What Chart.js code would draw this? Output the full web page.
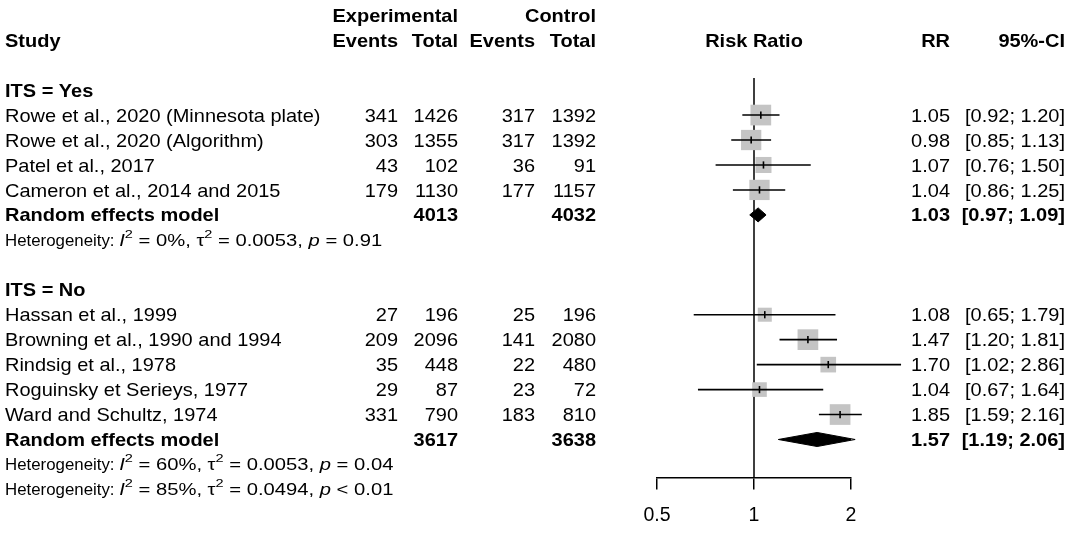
<!DOCTYPE html>
<html>
<head>
<meta charset="utf-8">
<script src="https://cdn.jsdelivr.net/npm/chart.js@4.4.1/dist/chart.umd.min.js"></script>
<style>
html,body{margin:0;padding:0;background:#fff;}
#wrap{width:1084px;height:545px;position:relative;}
</style>
</head>
<body>
<div id="wrap"><canvas id="c" width="1084" height="545"></canvas></div>
<script>
// ---------------- DATA ----------------
const groupLabels = ['ITS = Yes', 'ITS = No'];
const studies = [
  'Rowe et al., 2020 (Minnesota plate)',
  'Rowe et al., 2020 (Algorithm)',
  'Patel et al., 2017',
  'Cameron et al., 2014 and 2015',
  'Hassan et al., 1999',
  'Browning et al., 1990 and 1994',
  'Rindsig et al., 1978',
  'Roguinsky et Serieys, 1977',
  'Ward and Schultz, 1974'
];
const studyGroup = [0, 0, 0, 0, 1, 1, 1, 1, 1];
const expEvents  = [341, 303, 43, 179, 27, 209, 35, 29, 331];
const expTotal   = [1426, 1355, 102, 1130, 196, 2096, 448, 87, 790];
const ctrlEvents = [317, 317, 36, 177, 25, 141, 22, 23, 183];
const ctrlTotal  = [1392, 1392, 91, 1157, 196, 2080, 480, 72, 810];
const rr     = [1.05, 0.98, 1.07, 1.04, 1.08, 1.47, 1.70, 1.04, 1.85];
const ciLow  = [0.92, 0.85, 0.76, 0.86, 0.65, 1.20, 1.02, 0.67, 1.59];
const ciHigh = [1.20, 1.13, 1.50, 1.25, 1.79, 1.81, 2.86, 1.64, 2.16];
// relative study weights
const relWeight = [1.00, 0.96, 0.60, 0.96, 0.46, 1.00, 0.57, 0.50, 1.00];

const reLabel = 'Random effects model';
const reExpTotal  = [4013, 3617];
const reCtrlTotal = [4032, 3638];
const reRR   = [1.03, 1.57];
const reLow  = [0.97, 1.19];
const reHigh = [1.09, 2.06];

const hetI2   = ['0%', '60%', '85%'];
const hetTau2 = ['0.0053', '0.0053', '0.0494'];
const hetP    = ['= 0.91', '= 0.04', '< 0.01'];

const xTicks = [0.5, 1, 2];
const headTop = ['Experimental', 'Control'];
const headCols = ['Study', 'Events', 'Total', 'Events', 'Total', 'Risk Ratio', 'RR', '95%-CI'];

// ---------------- LAYOUT (rows) ----------------
const rows = { group: [], study: [], re: [], het: [] };
(function () {
  let r = -1;
  for (let g = 0; g < groupLabels.length; g++) {
    rows.group[g] = r++;
    studies.forEach((s, i) => { if (studyGroup[i] === g) rows.study[i] = r++; });
    rows.re[g] = r++;
    rows.het[g] = r++;
    if (g < groupLabels.length - 1) r++;
  }
  rows.het[groupLabels.length] = r; // overall heterogeneity
})();

const Y_MIN = -1.485, Y_MAX = 14.527;
const ROW_PX = 24.92;
const DIAMOND_HALF = 7 / ROW_PX;
const MAX_BOX = 20.7;

const fmt2 = v => v.toFixed(2);

// ---------------- DATASETS ----------------
const datasets = [];
// reference line at RR = 1
datasets.push({
  data: [{x: 1, y: Y_MIN}, {x: 1, y: Y_MAX}],
  showLine: true, borderColor: '#000', borderWidth: 1.5, pointRadius: 0, order: 5, clip: false
});
// boxes
datasets.push({
  data: rr.map((v, i) => ({x: v, y: rows.study[i]})),
  showLine: false,
  pointStyle: 'rect',
  pointRadius: relWeight.map(w => MAX_BOX * Math.sqrt(w) / (2 * Math.SQRT1_2)),
  pointBackgroundColor: '#c4c4c4', pointBorderWidth: 0, pointBorderColor: '#c4c4c4',
  order: 4, clip: false
});
// CI lines
rr.forEach((v, i) => {
  datasets.push({
    data: [{x: ciLow[i], y: rows.study[i]}, {x: ciHigh[i], y: rows.study[i]}],
    showLine: true, borderColor: '#000', borderWidth: 1.6, pointRadius: 0, order: 2, clip: false
  });
});
// estimate ticks
datasets.push({
  data: rr.map((v, i) => ({x: v, y: rows.study[i]})),
  showLine: false, pointStyle: 'line', rotation: 90, pointRadius: 3.6,
  pointBorderColor: '#000', pointBorderWidth: 1.6, order: 1, clip: false
});
// diamonds
reRR.forEach((v, g) => {
  const r = rows.re[g];
  datasets.push({
    data: [
      {x: reLow[g], y: r}, {x: v, y: r - DIAMOND_HALF},
      {x: reHigh[g], y: r}, {x: v, y: r + DIAMOND_HALF}, {x: reLow[g], y: r}
    ],
    showLine: true, fill: 'shape', backgroundColor: '#000', borderColor: '#000',
    borderWidth: 1, pointRadius: 0, tension: 0, order: 1, clip: false
  });
});

// ---------------- TEXT ----------------
const SX = 1.08;
const SX_MATH = 1.08 * 1.2;
const FONT = "'Liberation Sans', Arial, Helvetica, sans-serif";
const FS = 18.5, FS_HET = 15.6;

function txt(ctx, s, x, y, o) {
  o = o || {};
  const size = o.size || FS;
  ctx.save();
  ctx.font = (o.italic ? 'italic ' : '') + (o.bold ? 'bold ' : '') + size + 'px ' + FONT;
  ctx.fillStyle = '#000';
  ctx.textBaseline = 'middle';
  ctx.textAlign = o.align || 'left';
  ctx.translate(x, y);
  ctx.scale(o.sx || SX, 1);
  ctx.fillText(s, 0, 0);
  ctx.restore();
}
function rich(ctx, segs, x, y, size) {
  let cx = x;
  segs.forEach(sg => {
    const sz = sg.sup ? size * 0.72 : size;
    const dy = sg.sup ? -size * 0.42 : 0;
    const sx = sg.math ? SX_MATH : SX;
    ctx.save();
    ctx.font = (sg.it ? 'italic ' : '') + sz + 'px ' + FONT;
    const w = ctx.measureText(sg.t).width * sx;
    ctx.restore();
    txt(ctx, sg.t, cx, y + dy, {size: sz, italic: sg.it, sx: sx});
    cx += w;
  });
}

const COL = { study: 5, expEv: 398, expTot: 458, ctrlEv: 535, ctrlTot: 596, rr: 950, ci: 1065 };

const textPlugin = {
  id: 'forestText',
  afterDraw(chart) {
    const ctx = chart.ctx;
    const ys = chart.scales.y, xs = chart.scales.x;
    const Y = r => ys.getPixelForValue(r) + 1.5;
    const cx1 = xs.getPixelForValue(1);
    // headers
    txt(ctx, headTop[0], COL.expTot, Y(-4.0), {bold: true, align: 'right'});
    txt(ctx, headTop[1], COL.ctrlTot, Y(-4.0), {bold: true, align: 'right'});
    const hr = -3.0;
    txt(ctx, headCols[0], COL.study, Y(hr), {bold: true});
    txt(ctx, headCols[1], COL.expEv, Y(hr), {bold: true, align: 'right'});
    txt(ctx, headCols[2], COL.expTot, Y(hr), {bold: true, align: 'right'});
    txt(ctx, headCols[3], COL.ctrlEv, Y(hr), {bold: true, align: 'right'});
    txt(ctx, headCols[4], COL.ctrlTot, Y(hr), {bold: true, align: 'right'});
    txt(ctx, headCols[5], cx1, Y(hr), {bold: true, align: 'center'});
    txt(ctx, headCols[6], COL.rr, Y(hr), {bold: true, align: 'right'});
    txt(ctx, headCols[7], COL.ci, Y(hr), {bold: true, align: 'right'});
    // groups
    groupLabels.forEach((g, gi) => {
      txt(ctx, g, COL.study, Y(rows.group[gi]), {bold: true});
      const r = rows.re[gi];
      txt(ctx, reLabel, COL.study, Y(r), {bold: true});
      txt(ctx, String(reExpTotal[gi]), COL.expTot, Y(r), {bold: true, align: 'right'});
      txt(ctx, String(reCtrlTotal[gi]), COL.ctrlTot, Y(r), {bold: true, align: 'right'});
      txt(ctx, fmt2(reRR[gi]), COL.rr, Y(r), {bold: true, align: 'right'});
      txt(ctx, '[' + fmt2(reLow[gi]) + '; ' + fmt2(reHigh[gi]) + ']', COL.ci, Y(r), {bold: true, align: 'right'});
    });
    // studies
    studies.forEach((s, i) => {
      const y = Y(rows.study[i]);
      txt(ctx, s, COL.study, y);
      txt(ctx, String(expEvents[i]), COL.expEv, y, {align: 'right'});
      txt(ctx, String(expTotal[i]), COL.expTot, y, {align: 'right'});
      txt(ctx, String(ctrlEvents[i]), COL.ctrlEv, y, {align: 'right'});
      txt(ctx, String(ctrlTotal[i]), COL.ctrlTot, y, {align: 'right'});
      txt(ctx, fmt2(rr[i]), COL.rr, y, {align: 'right'});
      txt(ctx, '[' + fmt2(ciLow[i]) + '; ' + fmt2(ciHigh[i]) + ']', COL.ci, y, {align: 'right'});
    });
    // heterogeneity
    hetI2.forEach((v, k) => {
      rich(ctx, [
        {t: 'Heterogeneity: '}, {t: 'I', it: true, math: true}, {t: '2', sup: true, math: true},
        {t: ' = ' + v + ', \u03C4', math: true}, {t: '2', sup: true, math: true},
        {t: ' = ' + hetTau2[k] + ', ', math: true}, {t: 'p', it: true, math: true},
        {t: ' ' + hetP[k], math: true}
      ], COL.study, Y(rows.het[k]), FS_HET);
    });
  }
};

new Chart(document.getElementById('c'), {
  type: 'line',
  data: { datasets },
  options: {
    responsive: false,
    animation: false,
    layout: { padding: { left: 657, right: 1084 - 851, top: 78, bottom: 4 } },
    plugins: { legend: { display: false }, tooltip: { enabled: false } },
    elements: { line: { tension: 0 } },
    scales: {
      x: {
        type: 'logarithmic', min: 0.5, max: 2, position: 'bottom',
        afterBuildTicks: axis => { axis.ticks = xTicks.map(v => ({value: v, major: true})); },
        ticks: {
          callback: v => String(v), color: '#000', padding: 14, maxRotation: 0, autoSkip: false,
          font: { family: FONT, size: 19.5 }
        },
        grid: { drawOnChartArea: false, drawTicks: true, tickLength: 12, color: '#000', lineWidth: 1.5 },
        border: { display: true, color: '#000', width: 1.5 }
      },
      y: { type: 'linear', min: Y_MIN, max: Y_MAX, reverse: true, display: false }
    }
  },
  plugins: [textPlugin]
});
</script>
</body>
</html>
